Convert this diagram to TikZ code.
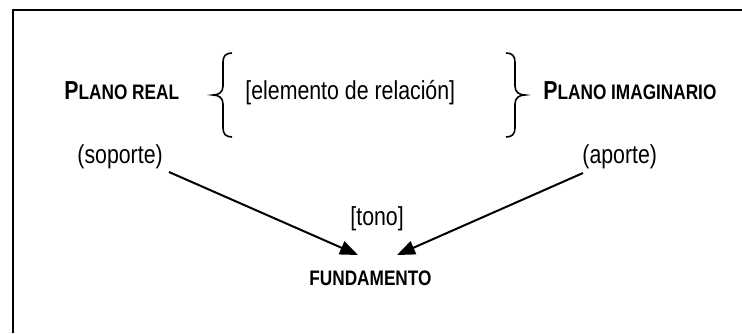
\documentclass[tikz,border=0pt]{standalone}
\usepackage{fontspec}
\setmainfont[FakeStretch=0.82]{Liberation Sans}
\usetikzlibrary{arrows.meta}
\begin{document}
\begin{tikzpicture}[x=0.5pt,y=-0.5pt,
  txt/.style={inner sep=0pt, anchor=base west, font=\fontsize{13}{15}\selectfont},
  sc/.style={inner sep=0pt, anchor=base west, font=\fontsize{13}{15}\selectfont\bfseries},
  small/.style={font=\fontsize{10.5}{12}\selectfont\bfseries},
  conn/.style={line width=1pt, -{Triangle[length=9pt,width=7pt]}},
  bracestyle/.style={line width=0.8pt},
  frame/.style={line width=1pt}]
\useasboundingbox (0,0) rectangle (742,333);
\draw[frame] (12.5,333) -- (12.5,9.5) -- (742,9.5);
% texts
\node[sc] (preal) at (64,99) {P{\fontsize{10.5}{12}\selectfont LANO REAL}};
\node[txt] (elem) at (245,99) {[elemento de relación]};
\node[sc] (pimag) at (543,99) {P{\fontsize{10.5}{12}\selectfont LANO IMAGINARIO}};
\node[txt] (sop) at (77,163.5) {(soporte)};
\node[txt] (apo) at (582,163.5) {(aporte)};
\node[txt] (tono) at (350,225) {[tono]};
\node[sc, small] (fund) at (309,285) {FUNDAMENTO};
% braces
\draw[bracestyle] (232,53) .. controls (226,53) and (223,56) .. (223,62) -- (223,86)
  .. controls (223,92) and (219,95) .. (213,95)
  .. controls (219,95) and (223,98) .. (223,104) -- (223,128)
  .. controls (223,134) and (226,137) .. (232,137);
\draw[bracestyle] (506,53) .. controls (512,53) and (515,56) .. (515,62) -- (515,86)
  .. controls (515,92) and (519,95) .. (525,95)
  .. controls (519,95) and (515,98) .. (515,104) -- (515,128)
  .. controls (515,134) and (512,137) .. (506,137);
% arrows
\coordinate (a1s) at (169,172);
\coordinate (a1e) at (358,255);
\coordinate (a2s) at (583,173);
\coordinate (a2e) at (397,255);
\draw[conn] (a1s) -- (a1e);
\draw[conn] (a2s) -- (a2e);
\end{tikzpicture}
\end{document}
